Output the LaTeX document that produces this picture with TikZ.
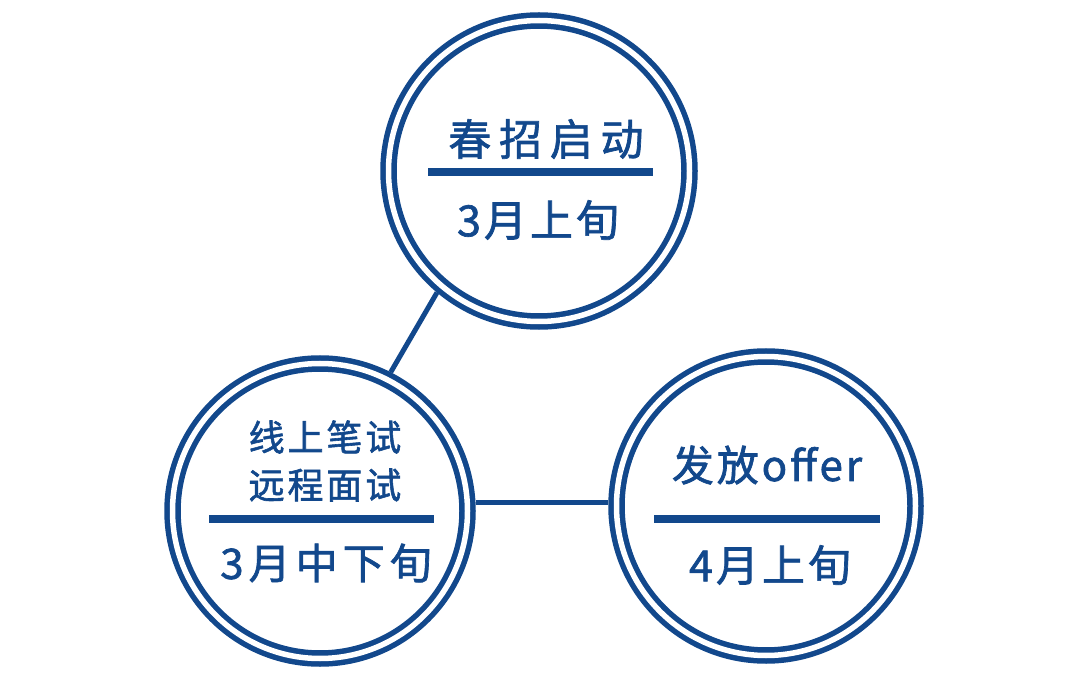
\documentclass[tikz,border=0pt]{standalone}
\usepackage{fontspec}
\newfontfamily\cjk[FakeBold=1.6]{Noto Sans CJK SC}
\definecolor{navy}{RGB}{18,72,140}
\newcommand{\fsz}[2]{\cjk\fontsize{#1}{#1}\selectfont\addfontfeature{LetterSpace=#2}}
\tikzset{
  ring/.style={circle, draw=navy, line width=5.5pt, double=white, double distance=5.5pt,
    inner sep=0pt, outer sep=8.25pt},
  lbl/.style={text=navy, inner sep=0pt, anchor=center},
  bar/.style={draw=navy, line width=8.5pt},
  link/.style={draw=navy, line width=5pt},
}
\begin{document}
\begin{tikzpicture}[x=1pt,y=-1pt]
\useasboundingbox (0,0) rectangle (1080,679);
% circles
\node[ring, minimum size=301pt] (top) at (539,171) {};
\node[ring, minimum size=295pt] (left) at (320,511) {};
\node[ring, minimum size=299pt] (right) at (766,506) {};
% top texts
\node[lbl, font=\fsz{43}{18}] (t1) at (546,139) {春招启动};
\draw[bar] (428,172) -- (653,172);
\node[lbl, font=\fsz{43}{7}] (t2) at (538,220) {3月上旬};
% left texts
\node[lbl, font=\fsz{36}{8}] (l1) at (325,437) {线上笔试};
\node[lbl, font=\fsz{36}{8}] (l2) at (325,485) {远程面试};
\draw[bar] (209,519) -- (434,519);
\node[lbl, font=\fsz{42}{12}] (l3) at (326,563) {3月中下旬};
% right texts
\node[lbl, font=\fsz{42}{7}] (r1) at (767,465) {发放offer};
\draw[bar] (654,519) -- (880,519);
\node[lbl, font=\fsz{43}{7}] (r2) at (770,565) {4月上旬};
% connectors
\draw[link] (top.230) -- (left.63);
\draw[link] (left.3) -- (left.3 -| right.west);
\end{tikzpicture}
\end{document}
